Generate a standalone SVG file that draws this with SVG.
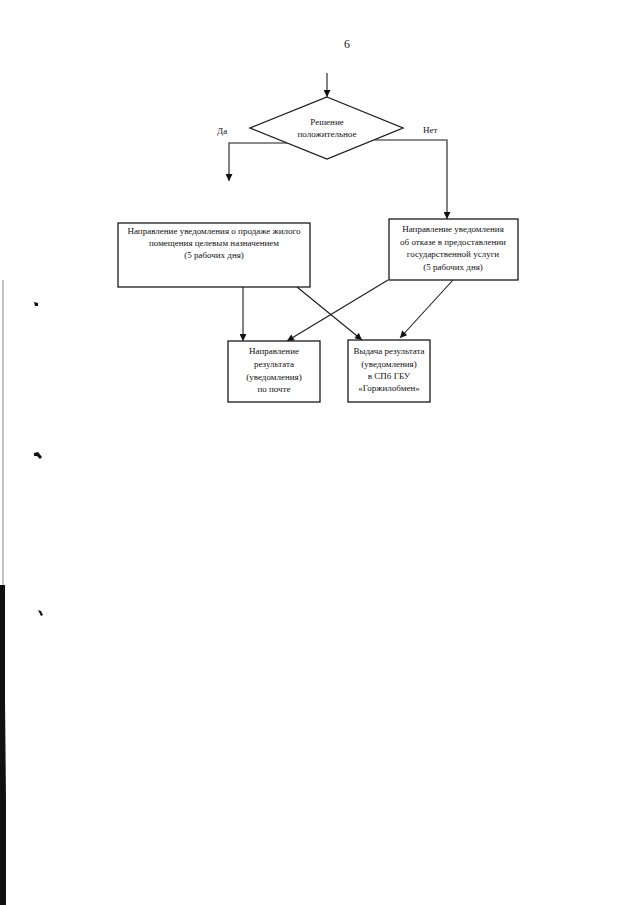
<svg xmlns="http://www.w3.org/2000/svg" width="640" height="905" viewBox="0 0 640 905">
  <defs>
    <marker id="arr" viewBox="0 0 10 10" refX="10" refY="5" markerWidth="8" markerHeight="7" markerUnits="userSpaceOnUse" orient="auto">
      <path d="M0,0 L10,5 L0,10 z" fill="#111"/>
    </marker>
    <style>
      .box { fill: #fff; stroke: #1a1a1a; stroke-width: 1.3; }
      .ln { fill: none; stroke: #1a1a1a; stroke-width: 1.1; }
      .t { font-family: "Liberation Serif", "Times New Roman", serif; font-size: 9px; fill: #111; text-anchor: middle; }
      .lbl { font-family: "Liberation Serif", "Times New Roman", serif; font-size: 9px; fill: #111; }
      .mark { fill: #111; }
    </style>
  </defs>
  <rect width="640" height="905" fill="#fff"/>

  <text x="347" y="48" style="font-family:'Liberation Serif',serif;font-size:12px;fill:#222;text-anchor:middle">6</text>

  <g id="connectors">
    <line class="ln" x1="327" y1="73" x2="327" y2="97" marker-end="url(#arr)"/>
    <polyline class="ln" points="287,143 229,143 229,181" marker-end="url(#arr)"/>
    <polyline class="ln" points="375,140 447,140 447,219" marker-end="url(#arr)"/>
    <line class="ln" x1="243" y1="287" x2="243" y2="341" marker-end="url(#arr)"/>
    <line class="ln" x1="297" y1="287" x2="362" y2="340" marker-end="url(#arr)"/>
    <line class="ln" x1="388" y1="280" x2="287" y2="341" marker-end="url(#arr)"/>
    <line class="ln" x1="453" y1="280" x2="400" y2="338" marker-end="url(#arr)"/>
    <text class="lbl" x="217" y="134">Да</text>
    <text class="lbl" x="423" y="133">Нет</text>
  </g>

  <g id="decision">
    <polygon class="box" points="327,97 403,128 327,159 250,128"/>
    <text class="t" x="327" y="125">Решение</text>
    <text class="t" x="327" y="137">положительное</text>
  </g>

  <g id="notify-sale">
    <rect class="box" x="118" y="223" width="192" height="64"/>
    <text class="t" x="214" y="234">Направление уведомления о продаже жилого</text>
    <text class="t" x="214" y="246">помещения целевым назначением</text>
    <text class="t" x="214" y="258">(5 рабочих дня)</text>
  </g>

  <g id="notify-refusal">
    <rect class="box" x="389" y="219" width="129" height="61"/>
    <text class="t" x="453" y="232">Направление уведомления</text>
    <text class="t" x="453" y="245">об отказе в предоставлении</text>
    <text class="t" x="453" y="257">государственной услуги</text>
    <text class="t" x="453" y="270">(5 рабочих дня)</text>
  </g>

  <g id="mail">
    <rect class="box" x="228" y="341" width="92" height="61"/>
    <text class="t" x="274" y="354">Направление</text>
    <text class="t" x="274" y="367">результата</text>
    <text class="t" x="274" y="380">(уведомления)</text>
    <text class="t" x="274" y="392">по почте</text>
  </g>

  <g id="issue">
    <rect class="box" x="348" y="340" width="82" height="62"/>
    <text class="t" x="389" y="354">Выдача результата</text>
    <text class="t" x="389" y="367">(уведомления)</text>
    <text class="t" x="389" y="379">в СПб ГБУ</text>
    <text class="t" x="389" y="391">«Горжилобмен»</text>
  </g>

  <g id="scan-marks">
    <path class="mark" d="M34,302 L38,303 L38,306 L35,306 Z"/>
    <path class="mark" d="M34,453 L38,452 L42,457 L40,459 L37,456 L34,456 Z"/>
    <path class="mark" d="M38,610 L41,611 L43,615 L41,616 Z"/>
    <path fill="none" stroke="#888" stroke-width="1" d="M3,280 L3,590"/>
    <path class="mark" d="M0,585 L5,585 L5,700 L6,800 L6,905 L0,905 Z"/>
  </g>
</svg>
